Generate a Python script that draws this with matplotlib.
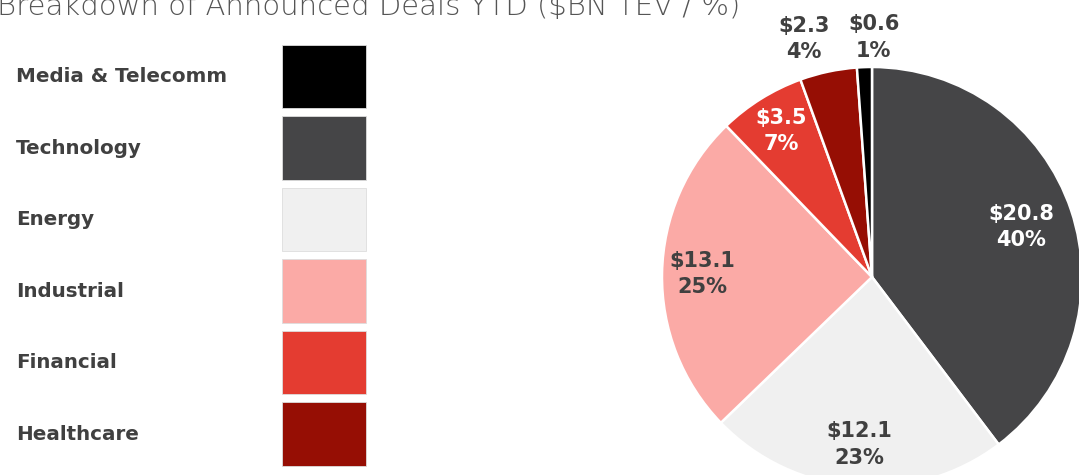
import matplotlib
matplotlib.use("Agg")
import matplotlib.pyplot as plt
import numpy as np

# data
categories = ["Media & Telecomm", "Technology", "Energy", "Industrial", "Financial", "Healthcare"]
values_bn = [0.6, 20.8, 12.1, 13.1, 3.5, 2.3]
shares = ["1%", "40%", "23%", "25%", "7%", "4%"]
colors = ["#000000", "#454547", "#f0f0f0", "#fbaaa6", "#e43c31", "#960e04"]

# pie order (clockwise from 12 o'clock)
pie_order = ["Technology", "Energy", "Industrial", "Financial", "Healthcare", "Media & Telecomm"]
label_dist = {"Technology": 0.75, "Energy": 0.80, "Industrial": 0.81,
              "Financial": 0.82, "Healthcare": 1.18, "Media & Telecomm": 1.14}
label_shift = {"Healthcare": 4.0, "Media & Telecomm": -2.5}  # degrees
label_color = {"Technology": "white", "Financial": "white"}

TXT = "#404040"
W, H = 1079, 475
fig = plt.figure(figsize=(W / 100, H / 100), dpi=100)
fig.patch.set_facecolor("white")

fig.text(-3 / W, 1 - 15 / H, "Breakdown of Announced Deals YTD ($BN TEV / %)",
         fontsize=21, color="#555555", fontweight="light", ha="left", va="baseline")

# legend column: swatches as horizontal bars
lax = fig.add_axes([0, 0, 1, 1])
lax.set_xlim(0, W)
ypos = np.arange(len(categories))
lax.set_ylim(5.573, -1.07)
lax.barh(ypos, [84] * len(categories), left=282, height=0.89, color=colors,
         edgecolor="#dddddd", linewidth=0.6)
for y, name in zip(ypos, categories):
    lax.text(16, y, name, fontsize=14.3, fontweight="bold", color=TXT, va="center", ha="left")
lax.axis("off")

# pie
cx, cy, r = 872, 277, 210
pax = fig.add_axes([(cx - r) / W, (H - cy - r) / H, 2 * r / W, 2 * r / H])
idx = [categories.index(c) for c in pie_order]
wedges, _ = pax.pie([values_bn[i] for i in idx], colors=[colors[i] for i in idx],
                    startangle=90, counterclock=False, radius=1,
                    wedgeprops=dict(edgecolor="white", linewidth=1.8))
for w, i in zip(wedges, idx):
    name = categories[i]
    ang = np.deg2rad((w.theta1 + w.theta2) / 2 + label_shift.get(name, 0))
    d = label_dist[name]
    pax.text(d * np.cos(ang), d * np.sin(ang), f"${values_bn[i]}\n{shares[i]}",
             ha="center", va="center", fontsize=15, fontweight="bold",
             color=label_color.get(name, TXT), linespacing=1.4, clip_on=False)
pax.set_xlim(-1, 1)
pax.set_ylim(-1, 1)
pax.set_aspect("equal")
pax.axis("off")

fig.savefig("out.png", dpi=100)
